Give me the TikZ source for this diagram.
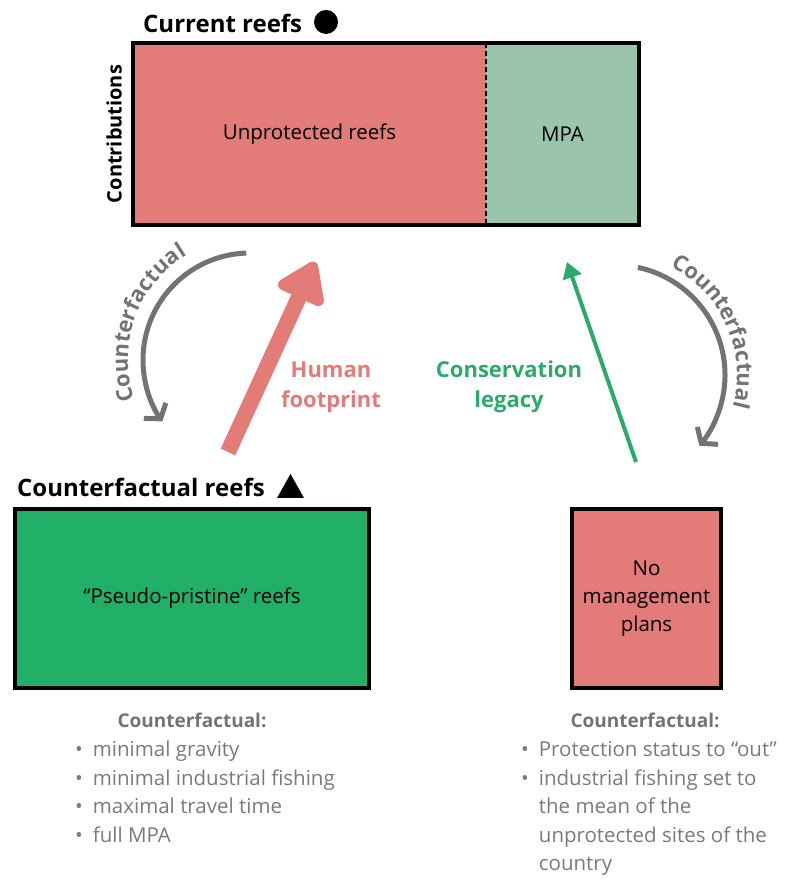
\documentclass[tikz,border=0pt]{standalone}
\usepackage{fontspec}
\setmainfont{Open Sans}
\usepackage{tikz}
\usetikzlibrary{positioning}
\usetikzlibrary{arrows.meta}
\usetikzlibrary{decorations.text}
\definecolor{reefred}{HTML}{E37B79}
\definecolor{mpagreen}{HTML}{9BC4AD}
\definecolor{ppgreen}{HTML}{22B068}
\definecolor{legacygreen}{HTML}{2BAA6B}
\definecolor{cfgray}{HTML}{737373}
\definecolor{listgray}{HTML}{7A7A7A}
\newcommand\arcfont{\bfseries\fontsize{22}{22}\selectfont}
\tikzset{
box/.style={
  rectangle,
  inner sep=0pt,
  outer sep=0pt,
  align=center,
  font=\fontsize{20.5}{28}\selectfont
  },
title/.style={
  anchor=base west,
  inner sep=0pt,
  font=\bfseries\fontsize{24}{24}\selectfont
  },
cfhead/.style={
  anchor=base,
  inner sep=0pt,
  text=cfgray,
  font=\bfseries\fontsize{19}{19}\selectfont
  },
cflist/.style={
  anchor=base west,
  inner sep=0pt,
  text=listgray,
  font=\fontsize{20.5}{28.5}\selectfont
  },
arrlabel/.style={
  align=center,
  inner sep=0pt,
  font=\bfseries\fontsize{22}{30}\selectfont
  },
cfarrow/.style={
  draw=cfgray,
  line width=5pt,
  -{Straight Barb[length=10pt,width=27pt]}
  },
cftext/.style={
  decorate,
  decoration={text along path,text align=center,text color=cfgray,
    text={|\arcfont|Counterfactual}}
  }
}
\begin{document}
\begin{tikzpicture}[x=1pt,y=1pt]
\useasboundingbox (0,0) rectangle (791,886);
% current reefs
\node[box,fill=reefred,minimum width=353,minimum height=182] (unprot) at (309.5,752) {Unprotected reefs};
\node[box,fill=mpagreen,minimum width=153,minimum height=182] (mpa) [right=0pt of unprot] {MPA};
\draw[line width=2pt,dash pattern=on 5pt off 3pt] (unprot.north east) -- (unprot.south east);
\draw[line width=4pt] (unprot.north west) rectangle (mpa.south east);
\node[title] (curr) at (143,853) {Current reefs};
\fill (326,864) circle (12);
\node[rotate=90,inner sep=0pt,font=\bfseries\fontsize{20}{20}\selectfont] (contr) at (114,752) {Contributions};
% counterfactual reefs
\node[box,draw,line width=4pt,fill=ppgreen,minimum width=354,minimum height=179] (pp) at (192,287.5) {“Pseudo-pristine” reefs};
\node[box,draw,line width=4pt,fill=reefred,minimum width=149,minimum height=179] (nomp) at (646.5,287.5) {No\\management\\plans};
\node[title] (cfr) at (17,389) {Counterfactual reefs};
\fill (277,388) -- (304,388) -- (290.5,412) -- cycle;
% arrows
\coordinate (fptail) at (228,434);
\coordinate (fptip) at (315,624);
\draw[reefred,line width=16pt,-{Triangle[length=44pt,width=56pt,round]}] (fptail) -- (fptip);
\node[arrlabel,text=reefred] (fp) at (331,499) {Human\\footprint};
\coordinate (cltail) at (636,424);
\coordinate (cltip) at (567,624);
\draw[legacygreen,line width=4pt,-{Triangle[length=16pt,width=19pt]}] (cltail) -- (cltip);
\node[arrlabel,text=legacygreen] (cl) at (509,499) {Conservation\\legacy};
\coordinate (lc) at (250,526);
\coordinate (rc) at (615,511);
\draw[cfarrow] (lc) ++(92:107) arc[start angle=92,end angle=215,radius=107];
\path[cftext] (lc) ++(215:122) arc[start angle=215,end angle=105,radius=122];
\draw[cfarrow] (rc) ++(78:110) arc[start angle=78,end angle=-40,radius=110];
\path[cftext] (rc) ++(72:122) arc[start angle=72,end angle=-24,radius=122];
% lists
\node[cfhead] (cfl) at (192,158) {Counterfactual:};
\node[cflist] (cflitems) at (75,129) {\begin{tabular}[t]{@{}l@{\hspace{10pt}}l@{}}
\textbullet & minimal gravity\\
\textbullet & minimal industrial fishing\\
\textbullet & maximal travel time\\
\textbullet & full MPA
\end{tabular}};
\node[cfhead] (cfrh) at (645,158) {Counterfactual:};
\node[cflist] (cfritems) at (521,129) {\begin{tabular}[t]{@{}l@{\hspace{10pt}}l@{}}
\textbullet & Protection status to “out”\\
\textbullet & industrial fishing set to\\
 & the mean of the\\
 & unprotected sites of the\\
 & country
\end{tabular}};
\end{tikzpicture}
\end{document}
